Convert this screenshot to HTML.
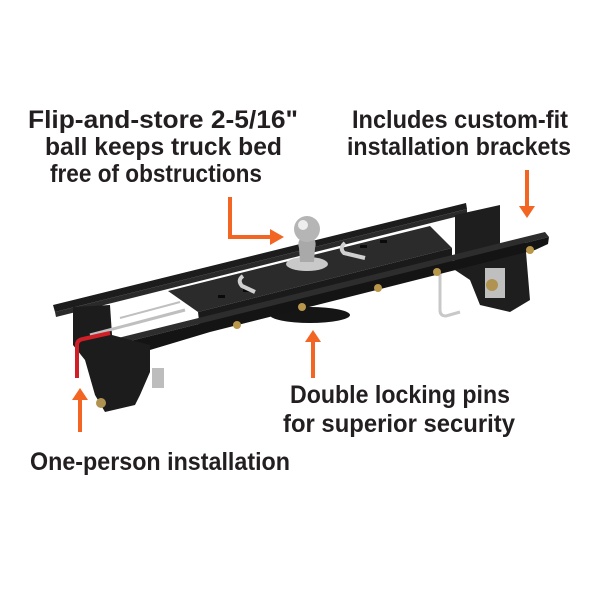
<!DOCTYPE html>
<html><head><style>
html,body{margin:0;padding:0;background:#fff;}
svg{display:block;}
text{font-family:"Liberation Sans",sans-serif;font-weight:bold;fill:#231f20;font-size:25px;}
</style></head><body>
<svg width="600" height="600" viewBox="0 0 600 600" xmlns="http://www.w3.org/2000/svg">
<rect width="600" height="600" fill="#fff"/>
<!-- texts -->
<text x="28" y="128" textLength="270" lengthAdjust="spacingAndGlyphs">Flip-and-store 2-5/16"</text>
<text x="45" y="155" textLength="237" lengthAdjust="spacingAndGlyphs">ball keeps truck bed</text>
<text x="50" y="182" textLength="212" lengthAdjust="spacingAndGlyphs">free of obstructions</text>
<text x="352" y="128" textLength="216" lengthAdjust="spacingAndGlyphs">Includes custom-fit</text>
<text x="347" y="155" textLength="224" lengthAdjust="spacingAndGlyphs">installation brackets</text>
<text x="290" y="403" textLength="220" lengthAdjust="spacingAndGlyphs">Double locking pins</text>
<text x="283" y="432" textLength="232" lengthAdjust="spacingAndGlyphs">for superior security</text>
<text x="30" y="470" textLength="260" lengthAdjust="spacingAndGlyphs">One-person installation</text>

<!-- arrows -->
<g stroke="#f26522" stroke-width="4" fill="none">
<polyline points="230,197 230,237 272,237"/>
<line x1="527" y1="170" x2="527" y2="208"/>
<line x1="313" y1="378" x2="313" y2="340"/>
<line x1="80" y1="432" x2="80" y2="398"/>
</g>
<g fill="#f26522">
<polygon points="270,229 284,237 270,245"/>
<polygon points="519,206 527,218 535,206"/>
<polygon points="305,342 313,330 321,342"/>
<polygon points="72,400 80,388 88,400"/>
</g>

<!-- product -->
<!-- rear rail -->
<polygon points="53,305 466,203 467,209 55,312" fill="#1c1c1c"/>
<polygon points="55,312 467,209 467,214 56,317" fill="#2a2a2a"/>
<!-- right bracket -->
<polygon points="455,215 500,205 500,245 525,240 530,300 510,312 480,305 470,280 455,270" fill="#1e1e1e"/>
<rect x="485" y="268" width="20" height="30" fill="#bfbfbf"/>
<circle cx="492" cy="285" r="6" fill="#b09350"/>
<!-- right U bolt -->
<path d="M440,238 L440,310 Q440,316 446,316 L460,312" stroke="#c8c8c8" stroke-width="3" fill="none"/>
<!-- center plate -->
<polygon points="168,291 430,226 452,248 198,312" fill="#2b2b2b"/>
<polygon points="198,312 452,248 452,262 200,330" fill="#1a1a1a"/>
<!-- slots -->
<g fill="#0a0a0a">
<rect x="218" y="295" width="7" height="3"/><rect x="243" y="289" width="7" height="3"/>
<rect x="360" y="245" width="7" height="3"/><rect x="380" y="240" width="7" height="3"/>
</g>
<!-- U handles -->
<path d="M243,276 Q237,280 242,286 L255,292" stroke="#d0d0d0" stroke-width="4" fill="none"/>
<path d="M345,243 Q339,248 344,253 L365,258" stroke="#d0d0d0" stroke-width="4" fill="none"/>
<!-- hump -->
<ellipse cx="310" cy="315" rx="40" ry="8" fill="#151515"/>
<!-- front rail -->
<polygon points="118,338 545,232 549,237 122,343" fill="#2d2d2d"/>
<polygon points="122,343 549,237 548,244 535,250 210,332 150,350 124,352" fill="#141414"/>
<!-- bolts -->
<g fill="#b8964a">
<circle cx="237" cy="325" r="4"/><circle cx="302" cy="307" r="4"/><circle cx="378" cy="288" r="4"/><circle cx="437" cy="272" r="4"/><circle cx="530" cy="250" r="4"/><circle cx="135" cy="350" r="4"/><circle cx="83" cy="322" r="4"/>
</g>
<!-- left bracket -->
<polygon points="73,307 110,305 112,335 150,345 150,372 140,395 135,405 105,412 95,395 85,360 73,345" fill="#1c1c1c"/>
<rect x="152" y="368" width="12" height="20" fill="#bdbdbd"/>
<circle cx="101" cy="403" r="5" fill="#b09350"/>
<!-- rods -->
<line x1="90" y1="335" x2="185" y2="310" stroke="#bfbfbf" stroke-width="3"/>
<line x1="120" y1="318" x2="180" y2="302" stroke="#bfbfbf" stroke-width="2"/>
<!-- red handle -->
<path d="M77,378 L77,345 Q77,340 83,339 L110,333" stroke="#d01f26" stroke-width="4" fill="none"/>
<!-- ball -->
<ellipse cx="307" cy="264" rx="21" ry="7" fill="#c9c9c9"/>
<path d="M300,262 L299,248 Q297,242 301,238 L313,238 Q317,242 315,248 L314,262 Z" fill="#a9a9a9"/>
<circle cx="307" cy="229" r="13" fill="#b5b5b5"/>
<circle cx="303" cy="225" r="5" fill="#eeeeee"/>
</svg>
</body></html>
